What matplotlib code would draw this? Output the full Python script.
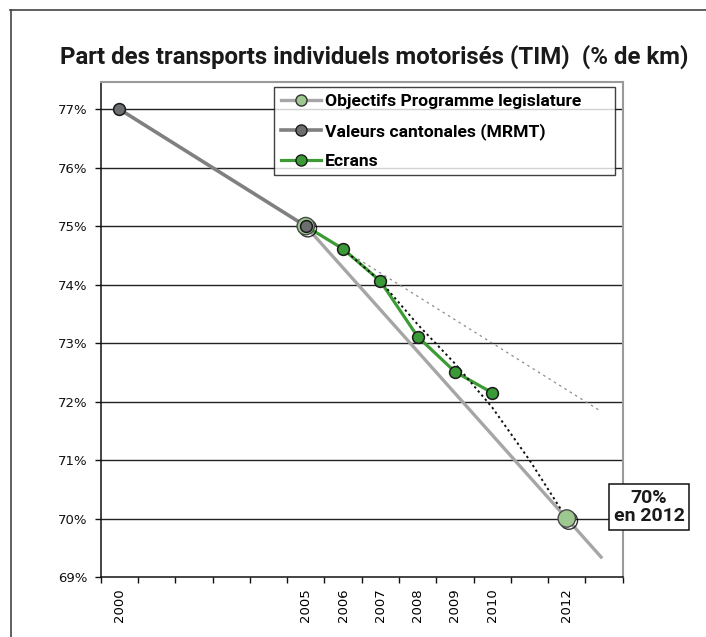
import numpy as np
import matplotlib
matplotlib.use('Agg')
import matplotlib.pyplot as plt
import matplotlib.patheffects as pe
from matplotlib.lines import Line2D

# categories of the x axis (Excel-like category axis, some empty slots)
annees = ['2000', '', '', '', '', '2005', '2006', '2007', '2008', '2009', '2010', '', '2012', '']

# series (% de km)
valeurs_x = [0, 5]
valeurs = [77.0, 75.0]
objectif_x = [5, 12, 12.95]
objectif = [75.0, 70.0, 69.32]
ecrans_x = [5, 6, 7, 8, 9, 10]
ecrans = [75.0, 74.61, 74.06, 73.11, 72.51, 72.15]
# trend lines
tendance_x = [6, 7, 8, 9, 10, 11, 12]
tendance = [74.61, 74.06, 73.32, 72.65, 71.9, 71.0, 70.0]
tendance_lin_x = [6.4, 12.9]
tendance_lin = [74.44, 71.84]

NARROW = ['Roboto', 'DejaVu Sans']

fig = plt.figure(figsize=(7.06, 6.37), dpi=100)
ax = fig.add_axes([0.1426, 0.0942, 0.7394, 0.7776])

# outer frame (top and left only visible)
fig.add_artist(Line2D([10/706, 1.0], [1-10/637, 1-10/637], color='#444444', lw=1.2))
fig.add_artist(Line2D([11/706, 11/706], [0, 1-10/637], color='#444444', lw=1.2))

ax.set_xlim(-0.5, 13.5)
ax.set_ylim(69, 77.47)

for v in range(70, 78):
    ax.axhline(v, color='#222222', lw=1.0, zorder=1)

# lines
ax.plot(objectif_x, objectif, color='#a6a6a6', lw=2.4, zorder=2, solid_capstyle='butt')
ax.plot(valeurs_x, valeurs, color='#808080', lw=2.6, zorder=3, solid_capstyle='butt')
ax.plot(tendance_lin_x, tendance_lin, color='#8c8c8c', lw=0.9, ls=(0, (2, 3)), zorder=3)
ax.plot(ecrans_x, ecrans, color='#3d9b35', lw=2.3, zorder=4)
ax.plot(tendance_x, tendance, color='#111111', lw=1.4, ls=(0, (1.2, 1.6)), zorder=5)

# markers
ax.plot(ecrans_x[1:], ecrans[1:], ls='none', marker='o', ms=8.5, mfc='#3a9a35',
        mec='#1a1a1a', mew=1.1, zorder=6)
ax.plot(objectif_x[:2], objectif[:2], ls='none', marker='o', ms=12.5, mfc='#9dc890',
        mec='#4a4a4a', mew=1.0, zorder=7,
        path_effects=[pe.SimpleLineShadow(offset=(1.5, -1.5), shadow_color='k', alpha=0.8),
                      pe.Normal()])
ax.plot(valeurs_x, valeurs, ls='none', marker='o', ms=8.5, mfc='#6d6e70',
        mec='#1a1a1a', mew=1.1, zorder=8)

# axes styling
for s in ['left', 'bottom']:
    ax.spines[s].set_color('#111111')
    ax.spines[s].set_linewidth(1.1)
for s in ['top', 'right']:
    ax.spines[s].set_color('#9a9a9a')
    ax.spines[s].set_linewidth(1.5)

ax.set_yticks(range(69, 78))
ax.set_yticklabels(['{}%'.format(v) for v in range(69, 78)])
ax.tick_params(axis='y', direction='out', length=4, width=1, pad=5.5, labelsize=9.5,
               colors='#111111')

ax.set_xticks(np.arange(-0.5, 14, 1))
ax.set_xticklabels([])
ax.set_xticks(np.arange(len(annees)), minor=True)
ax.set_xticklabels(annees, minor=True, rotation=90, fontsize=9.5)
ax.tick_params(axis='x', which='major', direction='out', length=4, width=1, color='#111111')
ax.tick_params(axis='x', which='minor', length=0, pad=8)

# legend
handles = [
    Line2D([], [], color='#a6a6a6', lw=2.4, marker='o', ms=8, mfc='#9dc890', mec='#333333'),
    Line2D([], [], color='#808080', lw=2.6, marker='o', ms=8, mfc='#6d6e70', mec='#1a1a1a'),
    Line2D([], [], color='#3d9b35', lw=2.3, marker='o', ms=8, mfc='#3a9a35', mec='#1a1a1a'),
]
labels = ['Objectifs Programme legislature', 'Valeurs cantonales (MRMT)', 'Ecrans']
leg = ax.legend(handles, labels, loc='upper left', mode='expand',
                bbox_to_anchor=(0.332, 0.814, 0.653, 0.175),
                borderaxespad=0, frameon=True, fancybox=False, handlelength=2.3,
                handletextpad=0.2, labelspacing=0.78, borderpad=0.39,
                prop={'family': NARROW, 'weight': 'bold', 'size': 12.6})
leg.get_frame().set_edgecolor('#111111')
leg.get_frame().set_linewidth(1.0)
leg.set_zorder(10)

# title
fig.text(374/706, 1-57/637, 'Part des transports individuels motorisés (TIM)  (% de km)',
         ha='center', va='center', family=NARROW, weight='bold', fontsize=17.3, color='#1a1a1a')

# annotation box
fig.text(649/706, 1-507/637, '70%\nen 2012', ha='center', va='center', multialignment='center',
         family=NARROW, weight='bold', fontsize=14, color='#1a1a1a', linespacing=1.05,
         bbox=dict(boxstyle='square,pad=0.25', fc='white', ec='#111111', lw=1.1), zorder=12)

fig.savefig('out.png', dpi=100)
